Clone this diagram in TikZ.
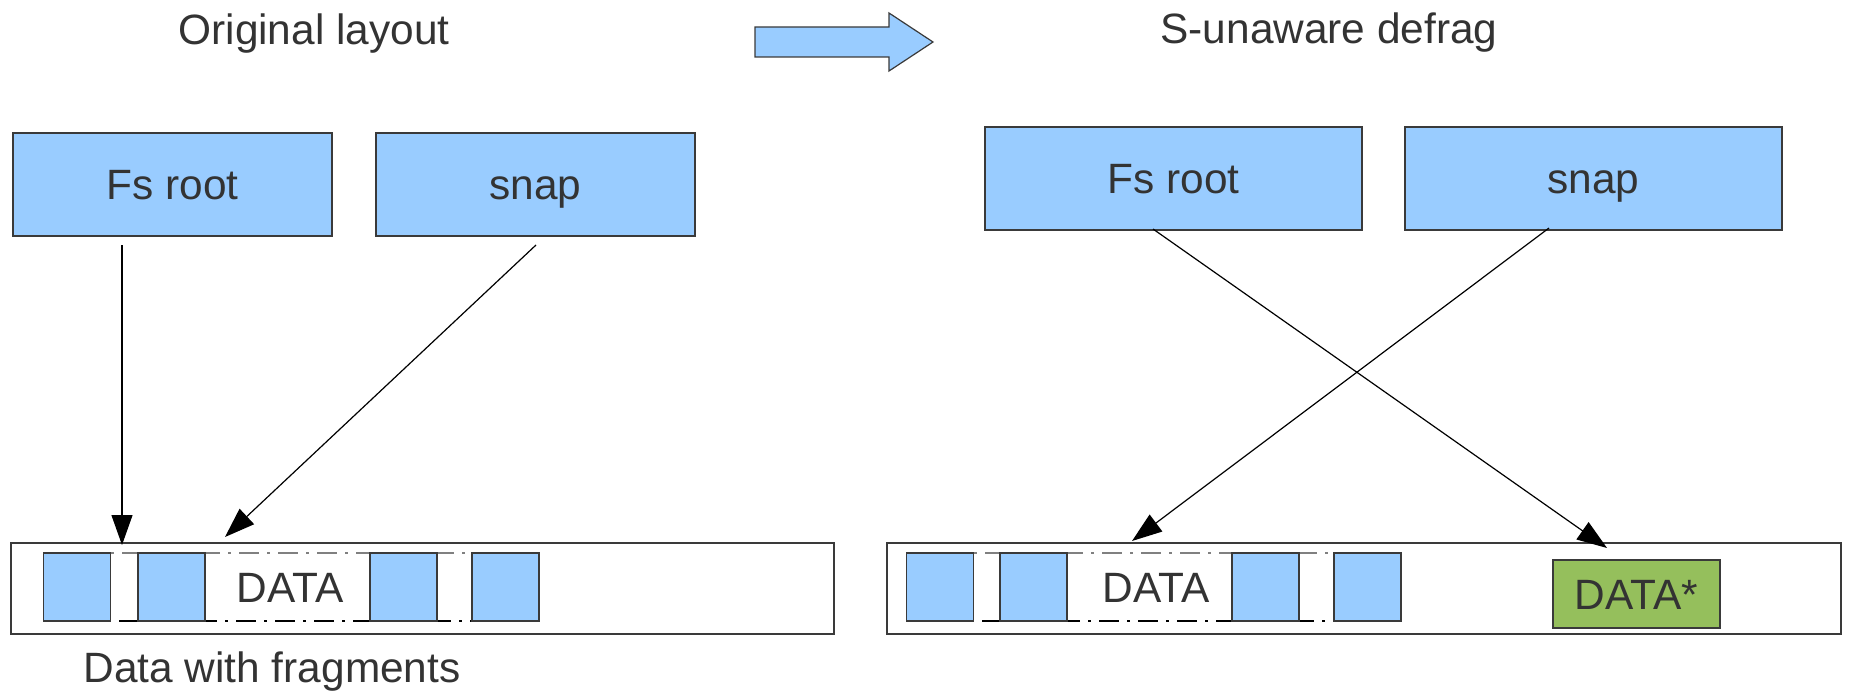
\documentclass[tikz,border=0pt]{standalone}
\usepackage{fontspec}
\setmainfont{Liberation Sans}
\usetikzlibrary{arrows.meta}
\definecolor{boxblue}{HTML}{99CCFF}
\definecolor{datagreen}{HTML}{95BF5C}
\definecolor{txt}{HTML}{333333}
\definecolor{edge}{HTML}{3A3A3A}
\begin{document}
\begin{tikzpicture}[x=0.5pt,y=-0.5pt,
  every node/.style={font=\fontsize{21.2}{25}\selectfont, text=txt},
  bluebox/.style={draw=edge, line width=0.6pt, fill=boxblue, inner sep=0pt,
    text height=15.2pt, text depth=0pt},
  barbox/.style={draw=edge, line width=0.6pt, fill=white, inner sep=0pt},
  block/.style={draw=edge, line width=0.6pt, fill=boxblue, inner sep=0pt,
    minimum width=33.5pt, minimum height=34pt},
  greenbox/.style={draw=edge, line width=0.6pt, fill=datagreen, inner sep=0pt,
    minimum width=83.5pt, minimum height=34pt, text height=15.2pt, text depth=0pt},
  label/.style={inner sep=0pt, text height=15.2pt, text depth=0pt},
  title/.style={inner sep=0pt, anchor=base},
  ptr/.style={draw=black, line width=0.6pt, -{Triangle[length=15pt,width=10.5pt]}},
  fragtop/.style={draw=gray, line width=0.6pt, dash pattern=on 10pt off 4pt on 1.5pt off 4pt},
  fragbot/.style={draw=black, line width=0.6pt, dash pattern=on 10pt off 4pt on 1.5pt off 4pt},
  bigarrow/.style={draw=edge, line width=0.6pt, fill=boxblue}
]
\useasboundingbox (0,0) rectangle (1850,690);

% titles
\node[title] (t1) at (314,45) {Original layout};
\node[title] (t2) at (1329,44) {S-unaware defrag};
\node[title] (t3) at (272,682) {Data with fragments};

% big arrow
\draw[bigarrow] (755,27) -- (889,27) -- (889,13) -- (933,42) -- (889,71) -- (889,57) -- (755,57) -- cycle;

% left boxes
\node[bluebox, minimum width=159.5pt, minimum height=51.5pt] (fsL) at (172.5,184.5) {Fs root};
\node[bluebox, minimum width=159.5pt, minimum height=51.5pt] (snapL) at (535.5,184.5) {snap};
% right boxes
\node[bluebox, minimum width=188.5pt, minimum height=51.5pt] (fsR) at (1173.5,178.5) {Fs root};
\node[bluebox, minimum width=188.5pt, minimum height=51.5pt] (snapR) at (1593.5,178.5) {snap};

% bars
\node[barbox, minimum width=411.5pt, minimum height=45.5pt] (barL) at (422.5,588.5) {};
\node[barbox, minimum width=477pt, minimum height=45.5pt] (barR) at (1364,588.5) {};

% left fragments
\draw[fragtop] (44,553) -- (539,553);
\draw[fragbot] (119,621) -- (472,621);
\node[block] (bL1) at (77,587) {};
\node[block] (bL2) at (171.5,587) {};
\node[block] (bL3) at (403.5,587) {};
\node[block] (bL4) at (505.5,587) {};
\node[label] (dataL) at (290,587) {DATA};

% right fragments
\draw[fragtop] (907,553) -- (1400,553);
\draw[fragbot] (982,621) -- (1334,621);
\node[block] (bR1) at (940,587) {};
\node[block] (bR2) at (1033.5,587) {};
\node[block] (bR3) at (1265.5,587) {};
\node[block] (bR4) at (1367.5,587) {};
\node[label] (dataR) at (1156,587) {DATA};
\node[greenbox] (dataStar) at (1636.5,594) {DATA*};

% connector end points
\coordinate (sL1) at (122,245);
\coordinate (eL1) at (122,545);
\coordinate (sL2) at (536,245);
\coordinate (eL2) at (225,537);
\coordinate (sR1) at (1153,229);
\coordinate (eR1) at (1607,548);
\coordinate (sR2) at (1549,228);
\coordinate (eR2) at (1132,541);

\draw[ptr] (sL1) -- (eL1);
\draw[ptr] (sL2) -- (eL2);
\draw[ptr] (sR1) -- (eR1);
\draw[ptr] (sR2) -- (eR2);
\end{tikzpicture}
\end{document}
